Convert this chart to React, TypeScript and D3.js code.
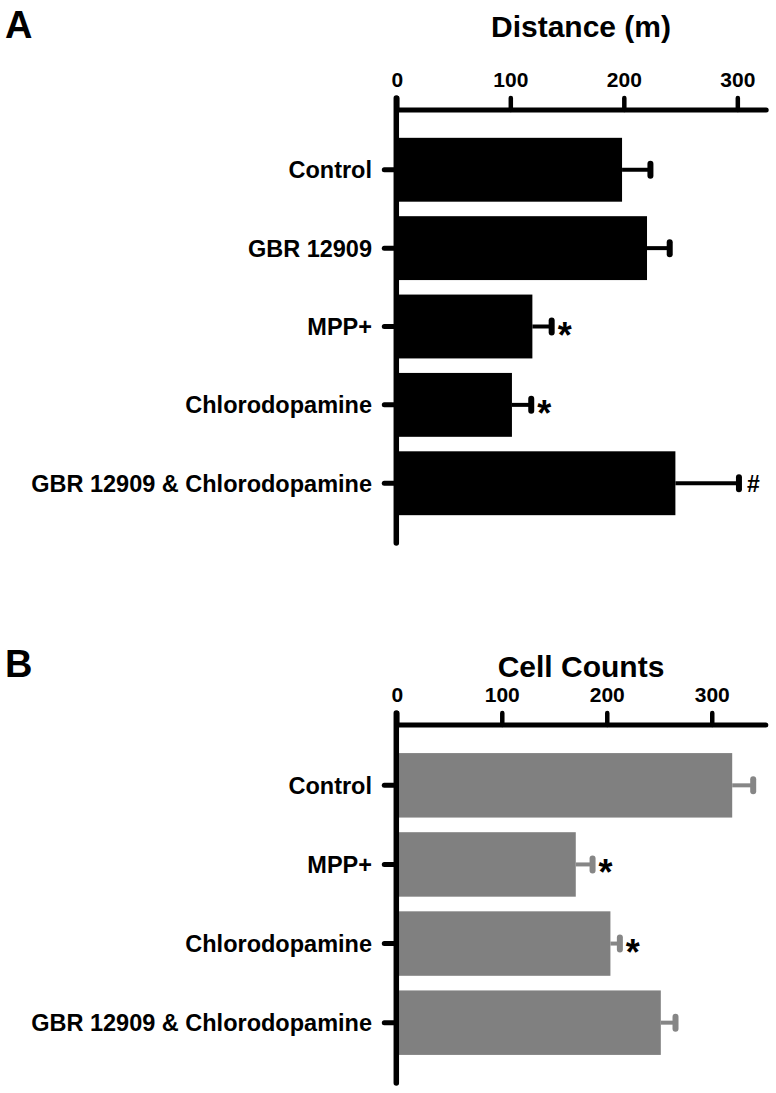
import React from "react";
import * as d3 from "d3";

const categoriesA = ["Control", "GBR 12909", "MPP+", "Chlorodopamine", "GBR 12909 & Chlorodopamine"];
const valuesA = [198, 220, 119, 101, 245];
const errorsA = [25, 20, 17, 17, 56];
const marksA = ["", "", "*", "*", "#"];
const ticksA = [0, 100, 200, 300];

const categoriesB = ["Control", "MPP+", "Chlorodopamine", "GBR 12909 & Chlorodopamine"];
const valuesB = [319, 170, 203, 251];
const errorsB = [20, 16, 9, 14];
const marksB = ["", "*", "*", ""];
const ticksB = [0, 100, 200, 300];

const FONT = "'Liberation Sans', Arial, Helvetica, sans-serif";

type PanelProps = {
  letter: string;
  letterY: number;
  title: string;
  titleY: number;
  categories: string[];
  values: number[];
  errors: number[];
  marks: string[];
  ticks: number[];
  xMax: number;
  xRange: [number, number];
  axisY: number;
  bottomY: number;
  fill: string;
  errColor: string;
};

function Panel(p: PanelProps) {
  const x = d3.scaleLinear().domain([0, p.xMax]).range(p.xRange);
  const y = d3
    .scaleBand<string>()
    .domain(p.categories)
    .range([p.axisY, p.bottomY])
    .paddingInner(0.185)
    .paddingOuter(0.355);
  const bw = y.bandwidth();
  const x0 = x(0);
  return (
    <g>
      <text x={5} y={p.letterY} fontFamily={FONT} fontWeight="bold" fontSize={38} fill="#000">
        {p.letter}
      </text>
      <text
        x={581}
        y={p.titleY}
        textAnchor="middle"
        fontFamily={FONT}
        fontWeight="bold"
        fontSize={30}
        fill="#000"
      >
        {p.title}
      </text>
      {p.categories.map((c, i) => (
        <rect key={"b" + c} x={x0} y={y(c)!} width={x(p.values[i]) - x0} height={bw} fill={p.fill} />
      ))}
      {p.categories.map((c, i) => {
        const cy = y(c)! + bw / 2;
        const xe = x(p.values[i] + p.errors[i]);
        return (
          <g key={"e" + c}>
            <line x1={x(p.values[i])} x2={xe} y1={cy} y2={cy} stroke={p.errColor} strokeWidth={4} />
            <line
              x1={xe}
              x2={xe}
              y1={cy - 6}
              y2={cy + 6}
              stroke={p.errColor}
              strokeWidth={6}
              strokeLinecap="round"
            />
            {p.marks[i] === "*" && (
              <text
                x={xe + 6}
                y={cy + 21}
                fontFamily={FONT}
                fontWeight="bold"
                fontSize={36}
                fill="#000"
              >
                *
              </text>
            )}
            {p.marks[i] === "#" && (
              <text
                x={xe + 8}
                y={cy + 9}
                fontFamily={FONT}
                fontWeight="bold"
                fontSize={23}
                fill="#000"
              >
                #
              </text>
            )}
          </g>
        );
      })}
      <line
        x1={x0}
        x2={x(p.xMax)}
        y1={p.axisY}
        y2={p.axisY}
        stroke="#000"
        strokeWidth={5}
        strokeLinecap="round"
      />
      {p.ticks.map((t) => (
        <g key={"t" + t}>
          <line
            x1={x(t)}
            x2={x(t)}
            y1={p.axisY}
            y2={p.axisY - 12}
            stroke="#000"
            strokeWidth={4.5}
            strokeLinecap="round"
          />
          <text
            x={x(t)}
            y={p.axisY - 23}
            textAnchor="middle"
            fontFamily={FONT}
            fontWeight="bold"
            fontSize={21}
            fill="#000"
          >
            {t}
          </text>
        </g>
      ))}
      <line
        x1={x0 - 1}
        x2={x0 - 1}
        y1={p.axisY - 12}
        y2={p.bottomY}
        stroke="#000"
        strokeWidth={5.5}
        strokeLinecap="round"
      />
      {p.categories.map((c) => {
        const cy = y(c)! + bw / 2;
        return (
          <g key={"c" + c}>
            <line
              x1={x0 - 13}
              x2={x0 - 1}
              y1={cy}
              y2={cy}
              stroke="#000"
              strokeWidth={5}
              strokeLinecap="round"
            />
            <text
              x={372}
              y={cy + 8.5}
              textAnchor="end"
              fontFamily={FONT}
              fontWeight="bold"
              fontSize={23.5}
              fill="#000"
            >
              {c}
            </text>
          </g>
        );
      })}
    </g>
  );
}

export default function App() {
  return (
    <svg
      width={776}
      height={1093}
      viewBox="0 0 776 1093"
      style={{ position: "absolute", left: 0, top: 0, background: "#fff" }}
    >
      <rect x={0} y={0} width={776} height={1093} fill="#fff" />
      <Panel
        letter="A"
        letterY={38}
        title="Distance (m)"
        titleY={37}
        categories={categoriesA}
        values={valuesA}
        errors={errorsA}
        marks={marksA}
        ticks={ticksA}
        xMax={325}
        xRange={[397.3, 766.2]}
        axisY={110}
        bottomY={543}
        fill="#000"
        errColor="#000"
      />
      <Panel
        letter="B"
        letterY={677}
        title="Cell Counts"
        titleY={677}
        categories={categoriesB}
        values={valuesB}
        errors={errorsB}
        marks={marksB}
        ticks={ticksB}
        xMax={351}
        xRange={[397.3, 765.8]}
        axisY={725}
        bottomY={1083}
        fill="#808080"
        errColor="#868686"
      />
    </svg>
  );
}
